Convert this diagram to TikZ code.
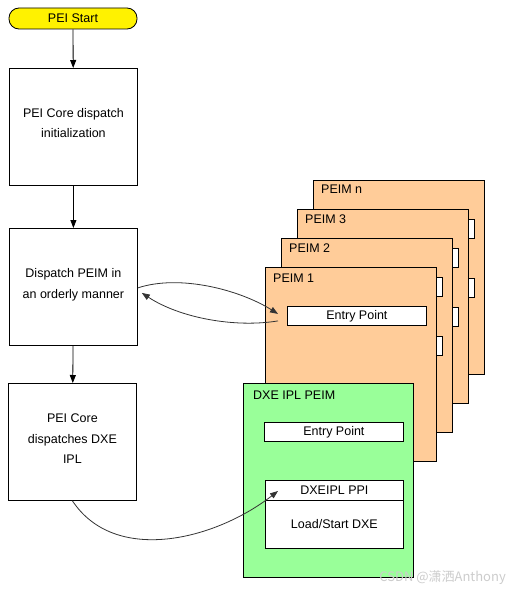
\documentclass[tikz,border=0pt]{standalone}
\usepackage{fontspec}
\setmainfont{Liberation Sans}
\newfontfamily\cjk{Noto Sans CJK SC}
\usetikzlibrary{arrows.meta}
\definecolor{peimorange}{HTML}{FFCC99}
\definecolor{dxegreen}{HTML}{99FF99}
\definecolor{curvegray}{HTML}{333333}
\begin{document}
\begin{tikzpicture}[x=1pt,y=-1pt,
  every node/.style={font=\fontsize{12.5}{20.5}\selectfont},
  box/.style={draw,line width=0.8pt,fill=white,anchor=north west,inner sep=0pt},
  stepbox/.style={box,minimum width=128pt,minimum height=117pt},
  steptext/.style={align=center,inner sep=0pt},
  card/.style={box,fill=peimorange,minimum width=171pt,minimum height=194pt},
  entrybox/.style={box,minimum width=139pt,minimum height=19pt},
  lbl/.style={anchor=west,inner sep=0pt},
  arr/.style={line width=0.8pt,-{Triangle[length=8pt,width=6pt]}},
  carr/.style={line width=0.8pt,draw=curvegray,-{Triangle[length=8pt,width=6pt]}}]
\useasboundingbox (0,0) rectangle (519,594);

% left column
\node[draw,line width=0.8pt,rounded corners=10pt,fill=yellow,minimum width=128pt,minimum height=21pt,inner sep=0pt] (start) at (73,18.5) {PEI Start};
\node[stepbox] (b1) at (9,68) {};
\node[steptext] (b1t) at ([yshift=4]b1.center) {PEI Core dispatch\\initialization};
\node[stepbox] (b2) at (9,228) {};
\node[steptext] (b2t) at ([yshift=2]b2.center) {Dispatch PEIM in\\an orderly manner};
\node[stepbox] (b3) at (8,383) {};
\node[steptext] (b3t) at ([yshift=3]b3.center) {PEI Core\\dispatches DXE\\IPL};
\draw[arr] (start) -- (b1);
\draw[arr] (b1) -- (b2);
\draw[arr] (b2) -- (b3);

% PEIM cards
\node[card] (pn) at (313,180) {};
\node[lbl] (pnL) at ([shift={(8,9)}]pn.north west) {PEIM n};
\node[entrybox] (pnE) at ([shift={(22,39)}]pn.north west) {};
\node[entrybox] (pnF) at ([shift={(22,98)}]pn.north west) {};

\node[card] (p3) at (297,209) {};
\node[lbl] (p3L) at ([shift={(8,10)}]p3.north west) {PEIM 3};
\node[entrybox] (p3E) at ([shift={(22,39)}]p3.north west) {};
\node[entrybox] (p3F) at ([shift={(22,98)}]p3.north west) {};

\node[card] (p2) at (281,238) {};
\node[lbl] (p2L) at ([shift={(8,10)}]p2.north west) {PEIM 2};
\node[entrybox] (p2E) at ([shift={(22,39)}]p2.north west) {};
\node[entrybox] (p2F) at ([shift={(22,98)}]p2.north west) {};

\node[card] (p1) at (265,267) {};
\node[lbl] (p1L) at ([shift={(8,11)}]p1.north west) {PEIM 1};
\node[entrybox] (p1E) at ([shift={(22,39)}]p1.north west) {Entry Point};

% DXE IPL PEIM
\node[card,fill=dxegreen,minimum width=170pt] (dxe) at (243,383) {};
\node[lbl] (dxeL) at ([shift={(10,12)}]dxe.north west) {DXE IPL PEIM};
\node[entrybox] (dxeE) at (264,422) {Entry Point};
\node[box,minimum width=138pt,minimum height=20pt] (ppi) at (265,480) {DXEIPL PPI};
\node[box,minimum width=138pt,minimum height=48pt] (load) at (265,500) {Load/Start DXE};

% curved connectors
\coordinate (c1s) at ([yshift=-1]b2.east);
\coordinate (c1e) at ([shift={(-9,-2)}]p1E.west);
\coordinate (c2s) at ([shift={(-9,5)}]p1E.west);
\coordinate (c2e) at ([shift={(4,6)}]b2.east);
\coordinate (c3s) at (b3.south);
\coordinate (c3e) at ([shift={(13,11)}]ppi.north west);
\draw[carr] (c1s) .. controls (180,274) and (240,290) .. (c1e);
\draw[carr] (c2s) .. controls (235,328) and (180,318) .. (c2e);
\draw[carr] (c3s) .. controls (115,565) and (215,540) .. (c3e);

% watermark
\node[anchor=east,inner sep=0pt,text=gray!40,font=\cjk\fontsize{13}{14}\selectfont] (wm) at (506,578) {CSDN @潇洒Anthony};
\end{tikzpicture}
\end{document}
